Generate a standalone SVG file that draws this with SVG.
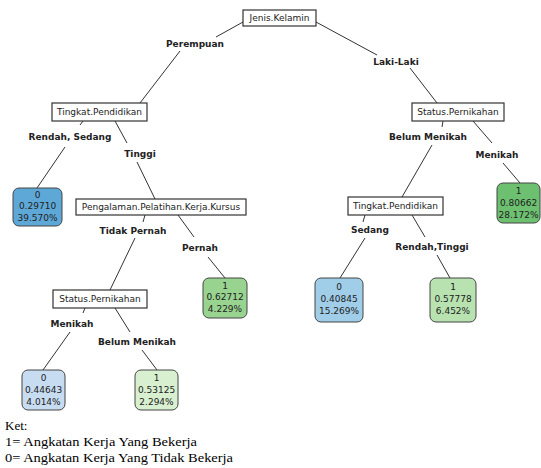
<svg xmlns="http://www.w3.org/2000/svg" width="541" height="468" viewBox="0 0 541 468">
<style>
.bg{fill:#fff}
.split{fill:#fff;stroke:#333;stroke-width:1.2}
.leaf{stroke:#444;stroke-width:1}
.t{font-family:"DejaVu Sans",Verdana,sans-serif;font-size:9px;fill:#222;text-anchor:middle}
.e{font-family:"DejaVu Sans",Verdana,sans-serif;font-size:9px;font-weight:bold;fill:#222;text-anchor:middle}
.c line{stroke:#333;stroke-width:1}
.k{font-family:"Liberation Serif","Times New Roman",serif;font-size:13px;fill:#000}
</style>
<rect class="bg" width="541" height="468"/>
<g class="c" id="connectors">
<line x1="243" y1="22" x2="216" y2="37"/><line x1="180" y1="51" x2="140" y2="103"/>
<line x1="316" y1="22" x2="377" y2="55"/><line x1="410" y1="68" x2="437" y2="103"/>
<line x1="83" y1="121" x2="80" y2="125"/><line x1="65" y1="147" x2="37" y2="188"/>
<line x1="115" y1="121" x2="127" y2="143"/><line x1="137" y1="162" x2="155" y2="199"/>
<line x1="145" y1="215" x2="143" y2="222"/><line x1="135" y1="238" x2="110" y2="290"/>
<line x1="178" y1="215" x2="194" y2="237"/><line x1="208" y1="257" x2="225" y2="278"/>
<line x1="85" y1="308" x2="83" y2="313"/><line x1="70" y1="332" x2="43" y2="370"/>
<line x1="115" y1="308" x2="130" y2="332"/><line x1="142" y1="350" x2="157" y2="370"/>
<line x1="443" y1="121" x2="442" y2="127"/><line x1="432" y1="145" x2="402" y2="197"/>
<line x1="473" y1="121" x2="492" y2="143"/><line x1="503" y1="163" x2="520" y2="183"/>
<line x1="365" y1="215" x2="363" y2="222"/><line x1="365" y1="238" x2="340" y2="278"/>
<line x1="412" y1="215" x2="425" y2="237"/><line x1="437" y1="255" x2="450" y2="278"/>
</g>
<g id="edge-labels">
<text class="e" x="195" y="47">Perempuan</text>
<text class="e" x="396" y="65">Laki-Laki</text>
<text class="e" x="70" y="140">Rendah, Sedang</text>
<text class="e" x="140" y="157">Tinggi</text>
<text class="e" x="133" y="234">Tidak Pernah</text>
<text class="e" x="200" y="251">Pernah</text>
<text class="e" x="72" y="327">Menikah</text>
<text class="e" x="137" y="345">Belum Menikah</text>
<text class="e" x="428" y="140">Belum Menikah</text>
<text class="e" x="497" y="158">Menikah</text>
<text class="e" x="370" y="233">Sedang</text>
<text class="e" x="432" y="250">Rendah,Tinggi</text>
</g>
<g id="n-root"><rect class="split" x="243" y="10" width="73" height="16"/><text class="t" x="279.5" y="21">Jenis.Kelamin</text></g>
<g id="n-tp1"><rect class="split" x="52" y="103" width="95" height="18"/><text class="t" x="99.5" y="115">Tingkat.Pendidikan</text></g>
<g id="n-sp1"><rect class="split" x="412" y="103" width="92" height="18"/><text class="t" x="458" y="115">Status.Pernikahan</text></g>
<g id="n-pel"><rect class="split" x="76" y="199" width="170" height="16"/><text class="t" x="161" y="210">Pengalaman.Pelatihan.Kerja.Kursus</text></g>
<g id="n-tp2"><rect class="split" x="348" y="197" width="95" height="18"/><text class="t" x="395.5" y="209">Tingkat.Pendidikan</text></g>
<g id="n-sp2"><rect class="split" x="53" y="290" width="94" height="18"/><text class="t" x="100" y="302">Status.Pernikahan</text></g>
<g id="leaf1"><rect class="leaf" x="13" y="188" width="49" height="38" rx="6" fill="#5ea8d8"/><text class="t" x="37.5" y="198">0</text><text class="t" x="37.5" y="209">0.29710</text><text class="t" x="37.5" y="221">39.570%</text></g>
<g id="leaf2"><rect class="leaf" x="203" y="278" width="44" height="40" rx="6" fill="#98d48f"/><text class="t" x="225" y="289">1</text><text class="t" x="225" y="300">0.62712</text><text class="t" x="225" y="312">4.229%</text></g>
<g id="leaf3"><rect class="leaf" x="22" y="370" width="43" height="40" rx="6" fill="#c8dcf1"/><text class="t" x="43.5" y="381">0</text><text class="t" x="43.5" y="393">0.44643</text><text class="t" x="43.5" y="405">4.014%</text></g>
<g id="leaf4"><rect class="leaf" x="135" y="370" width="43" height="40" rx="6" fill="#d8f0d0"/><text class="t" x="156.5" y="381">1</text><text class="t" x="156.5" y="393">0.53125</text><text class="t" x="156.5" y="405">2.294%</text></g>
<g id="leaf5"><rect class="leaf" x="497" y="183" width="43" height="40" rx="6" fill="#6cc070"/><text class="t" x="518.5" y="194">1</text><text class="t" x="518.5" y="206">0.80662</text><text class="t" x="518.5" y="218">28.172%</text></g>
<g id="leaf6"><rect class="leaf" x="315" y="278" width="48" height="44" rx="6" fill="#a0cde8"/><text class="t" x="339" y="290">0</text><text class="t" x="339" y="302">0.40845</text><text class="t" x="339" y="314">15.269%</text></g>
<g id="leaf7"><rect class="leaf" x="430" y="278" width="46" height="44" rx="6" fill="#b8e2b0"/><text class="t" x="453" y="290">1</text><text class="t" x="453" y="302">0.57778</text><text class="t" x="453" y="314">6.452%</text></g>
<g id="legend">
<text class="k" x="5" y="430">Ket:</text>
<text class="k" x="5" y="446" textLength="192" lengthAdjust="spacingAndGlyphs">1= Angkatan Kerja Yang Bekerja</text>
<text class="k" x="5" y="462" textLength="228" lengthAdjust="spacingAndGlyphs">0= Angkatan Kerja Yang Tidak Bekerja</text>
</g>
</svg>
